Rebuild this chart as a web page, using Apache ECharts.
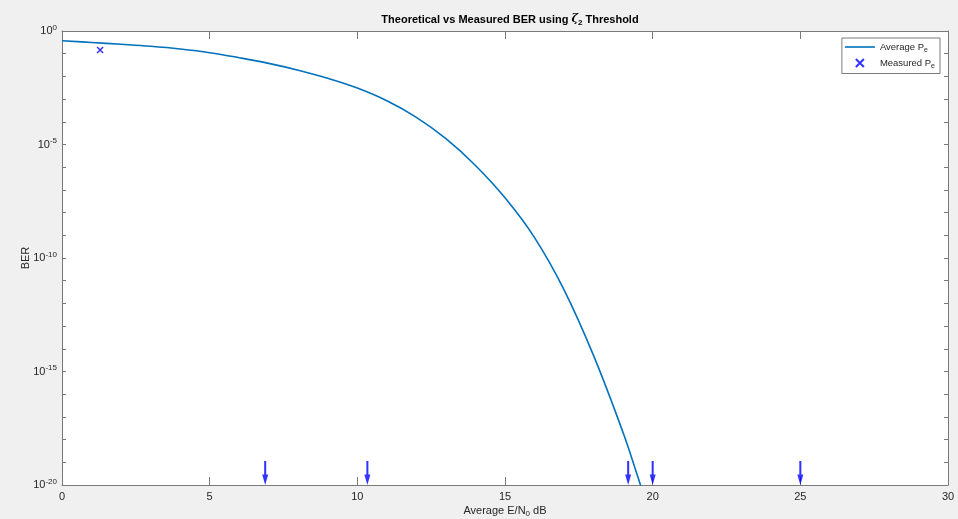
<!DOCTYPE html>
<html>
<head>
<meta charset="utf-8">
<script src="https://cdn.jsdelivr.net/npm/echarts@6/dist/echarts.min.js"></script>
<style>
html,body{margin:0;padding:0;background:#f0f0f0;}
#c{width:958px;height:519px;}
</style>
</head>
<body>
<div id="c"></div>
<script>
// Theoretical curve: Average E/N0 (dB) and BER
const ebn0 = [0, 1, 2, 3, 4, 5, 6, 7, 8, 9, 10, 11, 12, 13, 14, 15, 16, 17, 18, 19, 19.5, 19.6];
const berTheory = [0.3715, 0.3126, 0.26, 0.2113, 0.1603, 0.1109, 0.0668, 0.0376, 0.01884, 8.22e-3, 3.05e-3, 8.41e-4, 1.57e-4, 1.8e-5, 1.19e-6, 4.47e-8, 7.94e-10, 3.98e-12, 5.01e-15, 2.0e-18, 2.24e-20, 8.9e-21];
// Measured point
const measuredX = [1.29];
const measuredY = [0.145];
// Arrow markers (zero-error measurements) at the bottom of the axis
const arrowX = [6.88, 10.34, 19.17, 20.0, 25.0];
const arrowY = [1e-20, 1e-20, 1e-20, 1e-20, 1e-20];
// Axis settings
const xTicks = [0, 5, 10, 15, 20, 25, 30];
const yLabelDecades = [0, -5, -10, -15, -20];

const FONT = "'Liberation Sans', Arial, Helvetica, sans-serif";
const AX = '#7a7a7a';
const TXT = '#262626';

const chart = echarts.init(document.getElementById('c'), null, {renderer: 'canvas'});

function zip(a, b) { return a.map((v, i) => [v, b[i]]); }

const xCommon = {
  type: 'value', min: xTicks[0], max: xTicks[xTicks.length - 1], interval: xTicks[1] - xTicks[0],
  axisLine: {show: true, onZero: false, lineStyle: {color: AX, width: 1}},
  axisTick: {show: true, inside: true, length: 8, lineStyle: {color: AX}},
  splitLine: {show: false}
};
const yCommon = {
  type: 'log', logBase: 10, min: 1e-20, max: 1, interval: 1,
  axisLine: {show: true, onZero: false, lineStyle: {color: AX, width: 1}},
  axisTick: {show: true, inside: true, length: 4, interval: 0, lineStyle: {color: AX}},
  splitLine: {show: false}
};

const option = {
  backgroundColor: '#f0f0f0',
  animation: false,
  title: {
    text: 'Theoretical vs Measured BER using {z|ζ}{sub|2} Threshold',
    left: 505, top: 7, textAlign: 'center',
    textStyle: {
      fontFamily: FONT, fontSize: 11, fontWeight: 'bold', color: '#000',
      rich: {
        z: {fontFamily: 'DejaVu Serif', fontStyle: 'italic', fontSize: 11, color: '#000'},
        sub: {fontFamily: FONT, fontSize: 8, fontWeight: 'bold', color: '#000', padding: [7, 0, 0, 0]}
      }
    }
  },
  grid: {left: 62, right: 10, top: 31, bottom: 34, show: true, backgroundColor: '#ffffff', borderWidth: 0, outerBoundsMode: 'none', containLabel: false},
  legend: {
    orient: 'vertical', right: 18, top: 38,
    backgroundColor: '#ffffff', borderColor: AX, borderWidth: 1,
    padding: [4, 5, 4, 3], itemGap: 3,
    itemWidth: 30, itemHeight: 8,
    data: [
      {name: 'Average Pe', icon: 'path://M0,0L0,0M0,3.2L30,3.2L30,4.8L0,4.8ZM30,8L30,8'},
      {name: 'Measured Pe'}
    ],
    formatter: function (n) { return n === 'Average Pe' ? '{a|Average P}{s|e}' : '{a|Measured P}{s|e}'; },
    textStyle: {
      fontFamily: FONT, fontSize: 9, color: TXT,
      rich: {
        a: {fontFamily: FONT, fontSize: 9.5, color: TXT},
        s: {fontFamily: FONT, fontSize: 7, color: TXT, padding: [6, 0, 0, 0]}
      }
    }
  },
  xAxis: [
    Object.assign({}, xCommon, {
      position: 'bottom',
      name: 'Average E/N{sub|0} dB', nameLocation: 'middle', nameGap: 18, nameMoveOverlap: false,
      nameTextStyle: {
        fontFamily: FONT, fontSize: 11, color: TXT,
        rich: {sub: {fontFamily: FONT, fontSize: 8, color: TXT, padding: [7, 0, 0, 0]}}
      },
      axisLabel: {show: true, margin: 6, fontFamily: FONT, fontSize: 11, color: TXT}
    }),
    Object.assign({}, xCommon, {position: 'top', axisLabel: {show: false}})
  ],
  yAxis: [
    Object.assign({}, yCommon, {
      position: 'left',
      name: 'BER', nameLocation: 'middle', nameGap: 31, nameRotate: 90, nameMoveOverlap: false,
      nameTextStyle: {fontFamily: FONT, fontSize: 11, color: TXT},
      axisLabel: {
        show: true, margin: 5, interval: 0, showMinLabel: true, showMaxLabel: true,
        fontFamily: FONT, fontSize: 11, color: TXT,
        formatter: function (v) {
          const e = Math.round(Math.log10(v));
          if (yLabelDecades.indexOf(e) < 0) return '';
          return '{b|10}{s|' + e + '}';
        },
        rich: {
          b: {fontFamily: FONT, fontSize: 11, color: TXT},
          s: {fontFamily: FONT, fontSize: 8, color: TXT, padding: [0, 0, 7, 0]}
        }
      }
    }),
    Object.assign({}, yCommon, {position: 'right', axisLabel: {show: false}})
  ],
  series: [
    {
      name: 'Average Pe', type: 'line', xAxisIndex: 0, yAxisIndex: 0,
      data: zip(ebn0, berTheory), smooth: 0.4, symbol: 'none', showSymbol: false, clip: true,
      lineStyle: {color: '#0072bd', width: 1.6}, itemStyle: {color: '#0072bd'}
    },
    {
      name: 'Measured Pe', type: 'scatter', xAxisIndex: 0, yAxisIndex: 0,
      data: zip(measuredX, measuredY),
      symbol: 'path://M0,0L10,10M10,0L0,10', symbolSize: 6, symbolKeepAspect: true,
      itemStyle: {color: 'none', borderColor: '#0000ff', borderWidth: 1.5}
    },
    {
      name: 'arrows', type: 'scatter', xAxisIndex: 0, yAxisIndex: 0,
      data: zip(arrowX, arrowY),
      symbol: 'path://M3.3,0L6.7,0L6.7,14L10,14L5,25L0,14L3.3,14Z',
      symbolSize: [6, 24], symbolOffset: [0, -12], clip: false,
      itemStyle: {color: '#0000ff'}
    }
  ]
};
chart.setOption(option);
</script>
</body>
</html>
